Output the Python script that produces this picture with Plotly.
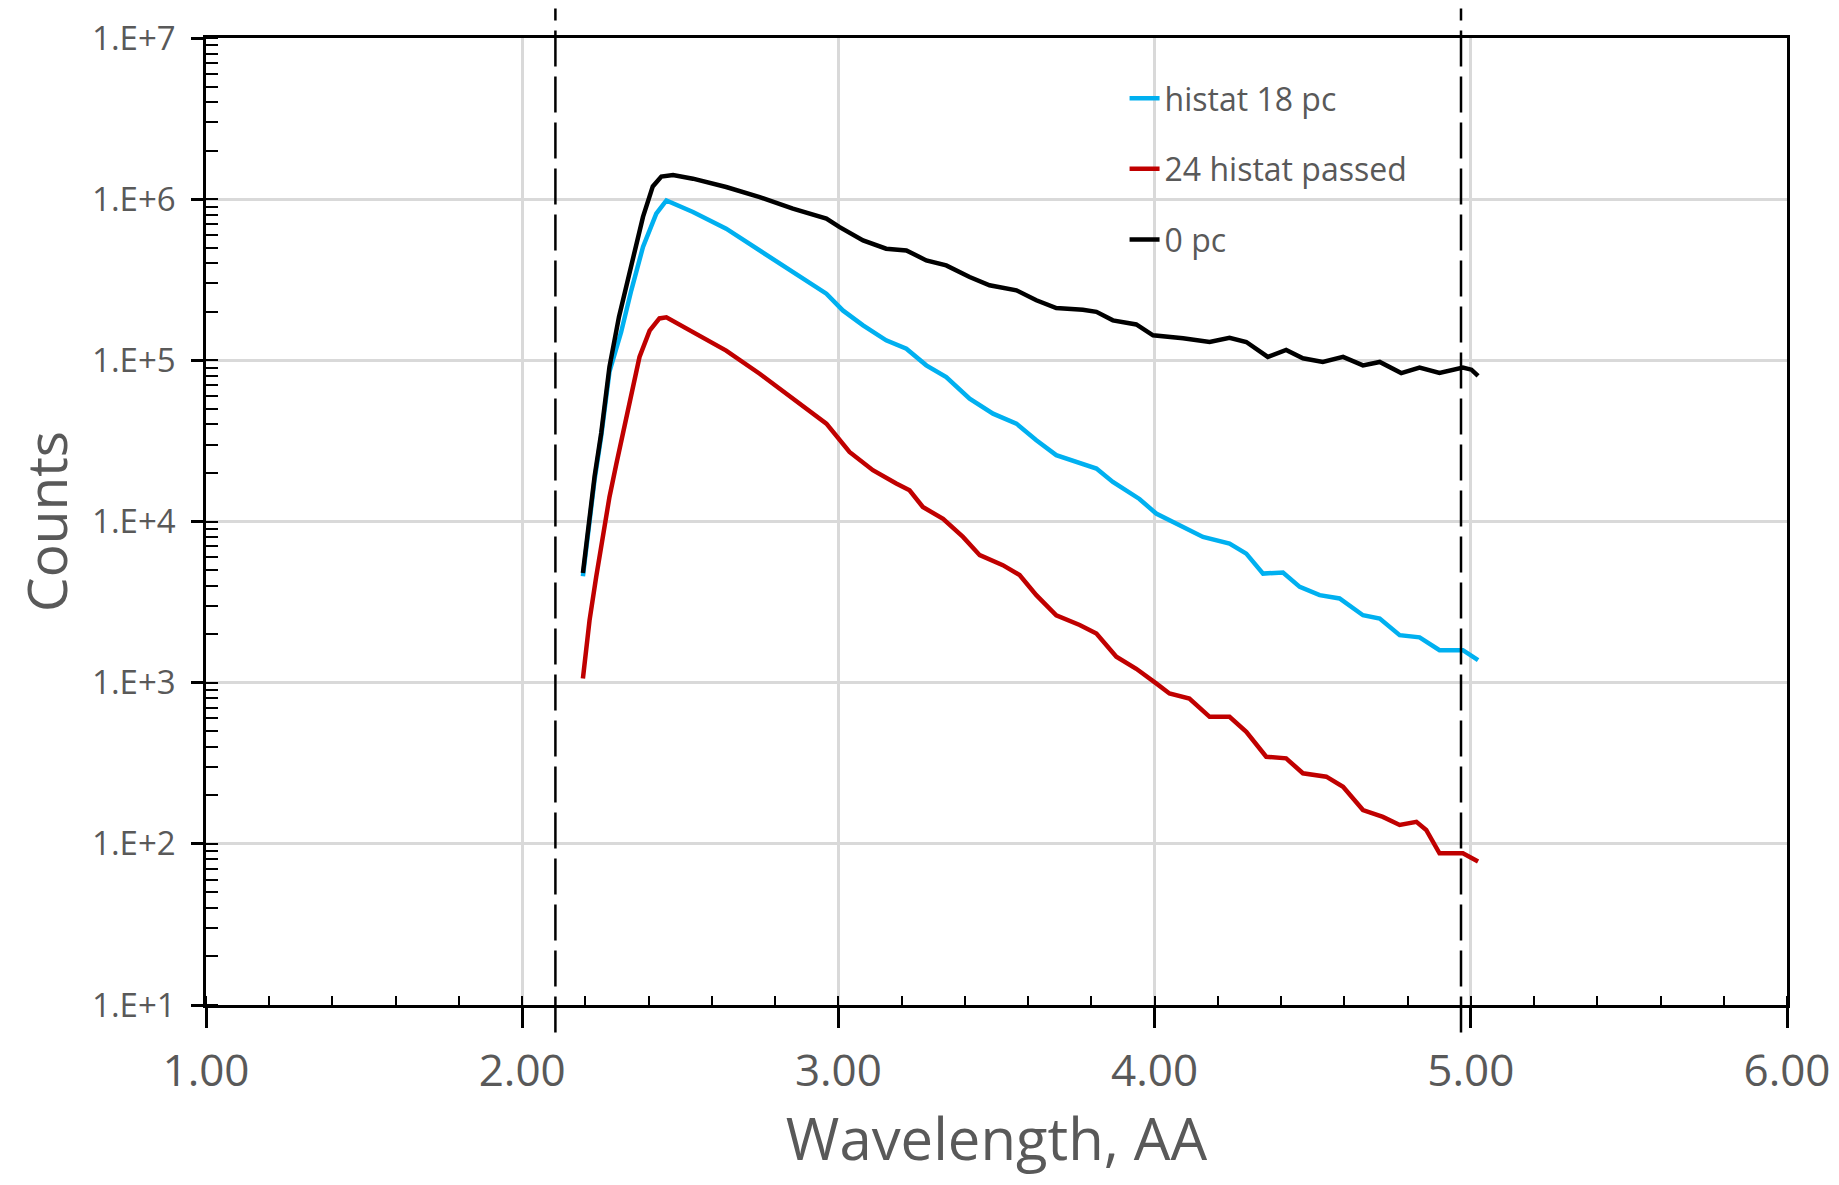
import plotly.graph_objects as go

# ---------------- data ----------------
series_names = ["histat 18 pc", "24 histat passed", "0 pc"]
series_colors = ["#00B0F0", "#C00000", "#000000"]

x_blue = [2.192, 2.213, 2.229, 2.250, 2.276, 2.313, 2.345, 2.382, 2.424, 2.456,
          2.540, 2.645, 2.751, 2.856, 2.962, 3.014, 3.078, 3.151, 3.215, 3.278,
          3.341, 3.415, 3.489, 3.563, 3.626, 3.689, 3.773, 3.816, 3.868, 3.952,
          4.005, 4.069, 4.153, 4.237, 4.290, 4.343, 4.406, 4.459, 4.522, 4.585,
          4.659, 4.712, 4.775, 4.838, 4.901, 4.975, 5.023]
y_blue = [4570, 9770, 18200, 33900, 85100, 150000, 272000, 505000, 813000, 982000,
          832000, 656000, 481000, 353000, 259000, 204000, 165000, 133000, 118000, 93100,
          78700, 57800, 46700, 40500, 31900, 25800, 22900, 21300, 17600, 13800,
          11200, 9710, 8020, 7290, 6320, 4750, 4830, 3930, 3490, 3330,
          2620, 2500, 1970, 1910, 1590, 1590, 1380]

x_red = [2.192, 2.213, 2.234, 2.255, 2.276, 2.298, 2.329, 2.340, 2.371, 2.403,
         2.434, 2.456, 2.540, 2.645, 2.751, 2.856, 2.962, 3.035, 3.109, 3.183,
         3.225, 3.267, 3.331, 3.394, 3.447, 3.520, 3.573, 3.626, 3.689, 3.763,
         3.816, 3.879, 3.942, 4.005, 4.047, 4.110, 4.174, 4.237, 4.290, 4.353,
         4.416, 4.469, 4.543, 4.596, 4.659, 4.722, 4.775, 4.828, 4.859, 4.901,
         4.975, 5.023]
y_red = [1060, 2440, 4530, 8020, 14200, 22900, 42500, 56500, 105000, 153000,
         182000, 185000, 150000, 115000, 82600, 57800, 40500, 27000, 20800, 17200,
         15600, 12300, 10400, 8020, 6180, 5360, 4650, 3490, 2620, 2280,
         2020, 1450, 1220, 990, 857, 798, 614, 614, 495, 347,
         339, 274, 261, 226, 162, 147, 131, 137, 122, 87.3,
         87.3, 77.6]

x_black = [2.192, 2.213, 2.229, 2.250, 2.276, 2.306, 2.345, 2.382, 2.413, 2.440,
           2.477, 2.540, 2.645, 2.751, 2.856, 2.962, 3.004, 3.078, 3.151, 3.215,
           3.278, 3.341, 3.415, 3.478, 3.563, 3.626, 3.689, 3.773, 3.816, 3.868,
           3.942, 3.995, 4.090, 4.174, 4.237, 4.290, 4.358, 4.416, 4.469, 4.532,
           4.596, 4.659, 4.712, 4.780, 4.838, 4.901, 4.975, 5.002, 5.023]
y_black = [4790, 10200, 19100, 35500, 91200, 186000, 380000, 776000, 1200000, 1380000,
           1410000, 1340000, 1190000, 1030000, 873000, 757000, 671000, 555000, 493000, 481000,
           417000, 388000, 329000, 292000, 272000, 236000, 211000, 206000, 200000, 177000,
           167000, 143000, 137000, 130000, 138000, 130000, 105000, 116000, 103000, 97700,
           105000, 93100, 97700, 83400, 90200, 83400, 90200, 87500, 80000]

# dashed marker lines (wavelength window)
window_x = [2.105, 4.969]

# axis ticks
x_range = [1, 6]
y_range_log = [1, 7]
y_tick_vals = [1e1, 1e2, 1e3, 1e4, 1e5, 1e6, 1e7]
y_tick_text = ["1.E+1", "1.E+2", "1.E+3", "1.E+4", "1.E+5", "1.E+6", "1.E+7"]

# ---------------- figure ----------------
FONT = "Open Sans"
GREY = "#595959"
GRID = "#D9D9D9"

fig = go.Figure()
for xs, ys, name, color, grp in [
    (x_blue, y_blue, series_names[0], series_colors[0], "g1"),
    (x_red, y_red, series_names[1], series_colors[1], "g2"),
    (x_black, y_black, series_names[2], series_colors[2], "g3"),
]:
    fig.add_trace(go.Scatter(x=xs, y=ys, mode="lines", name=name,
                             legendgroup=grp,
                             line=dict(color=color, width=4.5)))

for wx in window_x:
    fig.add_shape(type="line", xref="x", yref="paper",
                  x0=wx, x1=wx, y0=-0.0285, y1=1.0305,
                  line=dict(color="black", width=2.5, dash="36px,10px"))

# the page body adds an 8px offset, so the figure is 16px smaller than the window
fig.update_layout(
    width=1823, height=1169,
    margin=dict(l=198, r=44, t=30, b=172, autoexpand=False),
    paper_bgcolor="white", plot_bgcolor="white",
    font=dict(family=FONT, color=GREY),
    showlegend=True,
    legend=dict(x=0.581, y=0.966, xanchor="left", yanchor="top",
                bgcolor="rgba(0,0,0,0)", font=dict(size=32, color=GREY, family=FONT),
                tracegroupgap=26, itemwidth=30),
)

fig.update_xaxes(
    range=x_range, dtick=1, tick0=1, tickformat=".2f", automargin=False,
    ticks="outside", ticklen=20, tickwidth=2.5, tickcolor="black",
    ticklabelstandoff=5,
    minor=dict(ticks="inside", dtick=0.2, tick0=1, ticklen=9, tickwidth=2,
               tickcolor="black", showgrid=False),
    showline=True, linewidth=2.5, linecolor="black", mirror=True,
    showgrid=True, gridcolor=GRID, gridwidth=2.5, zeroline=False,
    tickfont=dict(size=44, color=GREY, family=FONT),
    title=dict(text="Wavelength, AA", font=dict(size=58, color=GREY, family=FONT), standoff=40),
)
fig.update_yaxes(
    type="log", range=y_range_log, automargin=False,
    tickvals=y_tick_vals, ticktext=y_tick_text,
    ticks="outside", ticklen=12, tickwidth=2.5, tickcolor="black",
    ticklabelstandoff=9,
    minor=dict(ticks="inside", dtick="D1", ticklen=12, tickwidth=2,
               tickcolor="black", showgrid=False),
    showline=True, linewidth=2.5, linecolor="black", mirror=True,
    showgrid=True, gridcolor=GRID, gridwidth=2.5, zeroline=False,
    tickfont=dict(size=33, color=GREY, family=FONT),
    title=dict(text="Counts", font=dict(size=55, color=GREY, family=FONT), standoff=32),
)

fig.write_html("out.html")
